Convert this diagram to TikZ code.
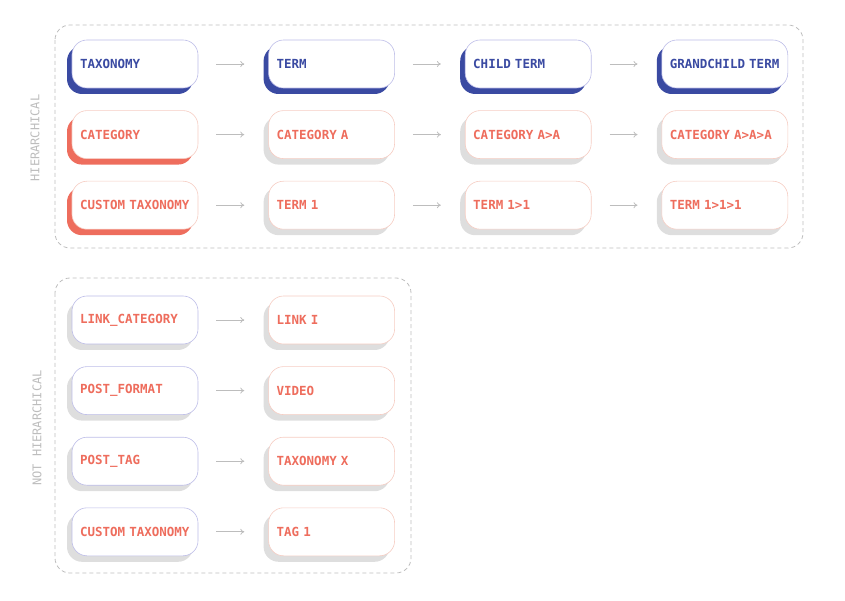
\documentclass[tikz,border=0pt]{standalone}
\usepackage{fontspec}
\setmonofont{DejaVu Sans Mono}
\usetikzlibrary{positioning,shadows,arrows.meta}
\definecolor{navy}{HTML}{3A4AA2}
\definecolor{coral}{HTML}{EE6D5D}
\definecolor{lavender}{HTML}{BDBDE8}
\definecolor{peach}{HTML}{F6CDC3}
\definecolor{shade}{HTML}{DEDEDE}
\definecolor{frame}{HTML}{BDBDBD}

\begin{document}
\begin{tikzpicture}[x=1pt,y=1pt,
    box/.style={draw, fill=white, rounded corners=15pt, line width=0.6pt,
      text width=110pt, inner xsep=8pt, minimum height=48pt, align=left,
      font=\ttfamily\bfseries\fontsize{12.5}{14}\selectfont},
    drop/.style={general shadow={fill=#1, shadow xshift=-5pt, shadow yshift=-6pt}},
    levelbox/.style={box, draw=lavender, text=navy, drop=navy},
    rootbox/.style={box, draw=peach, text=coral, drop=coral},
    termbox/.style={box, draw=peach, text=coral, drop=shade},
    keybox/.style={box, draw=lavender, text=coral, drop=shade},
    conn/.style={draw=frame, line width=0.8pt, -{To[length=4pt,width=6pt]},
      shorten <=18pt, shorten >=24pt},
    group/.style={draw=frame, dashed, dash pattern=on 4pt off 3pt, line width=0.8pt, rounded corners=15pt},
    sidelabel/.style={text=frame, rotate=90, font=\ttfamily\fontsize{12}{14}\selectfont}
  ]
  \useasboundingbox (0,0) rectangle (845,600);

  % hierarchical
  \draw[group] (55,575) rectangle (803,352);
  \node[sidelabel] (hier) at (35,462) {HIERARCHICAL};

  \node[levelbox] (tax) at (135,536) {TAXONOMY};
  \node[levelbox, right=70pt of tax] (term) {TERM};
  \node[levelbox, right=70pt of term] (child) {CHILD TERM};
  \node[levelbox, right=70pt of child] (grand) {GRANDCHILD TERM};

  \node[rootbox, below=22pt of tax] (cat) {CATEGORY};
  \node[termbox, right=70pt of cat] (catA) {CATEGORY A};
  \node[termbox, right=70pt of catA] (catAA) {CATEGORY A>A};
  \node[termbox, right=70pt of catAA] (catAAA) {CATEGORY A>A>A};

  \node[rootbox, below=22pt of cat] (custom) {CUSTOM TAXONOMY};
  \node[termbox, right=70pt of custom] (one) {TERM 1};
  \node[termbox, right=70pt of one] (oneone) {TERM 1>1};
  \node[termbox, right=70pt of oneone] (oneoneone) {TERM 1>1>1};

  % not hierarchical
  \draw[group] (55,322) rectangle (411,27);
  \node[sidelabel] (flat) at (37,172) {NOT HIERARCHICAL};

  \node[keybox] (link) at (135,280) {LINK\_CATEGORY};
  \node[keybox, below=22pt of link] (format) {POST\_FORMAT};
  \node[keybox, below=22pt of format] (tag) {POST\_TAG};
  \node[keybox, below=22pt of tag] (custom2) {CUSTOM TAXONOMY};

  \node[termbox, right=70pt of link] (linkI) {LINK I};
  \node[termbox, right=70pt of format] (video) {VIDEO};
  \node[termbox, right=70pt of tag] (taxX) {TAXONOMY X};
  \node[termbox, right=70pt of custom2] (tag1) {TAG 1};

  \foreach \a/\b in {tax/term, term/child, child/grand, cat/catA, catA/catAA,
      catAA/catAAA, custom/one, one/oneone, oneone/oneoneone, link/linkI,
      format/video, tag/taxX, custom2/tag1}
    \draw[conn] (\a.east) -- (\b.west);
\end{tikzpicture}
\end{document}
